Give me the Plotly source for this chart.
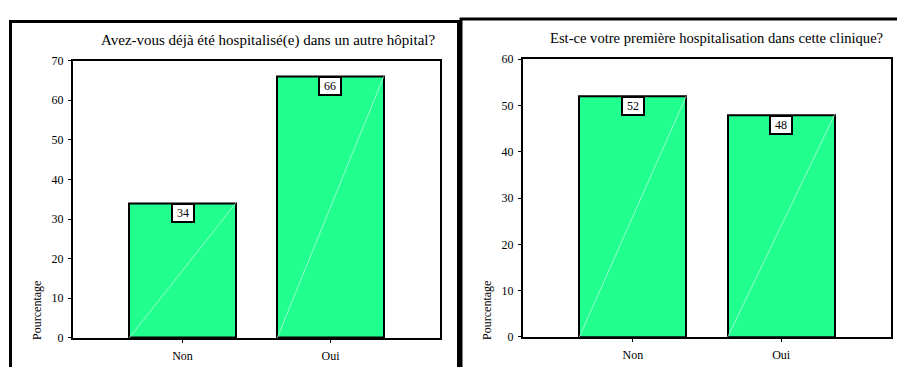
import plotly.graph_objects as go

# Survey results (percent of respondents)
categories = ["Non", "Oui"]
autre_hopital = [34, 66]
premiere_hospit = [52, 48]

titles = [
    "Avez-vous déjà été hospitalisé(e) dans un autre hôpital?",
    "Est-ce votre première hospitalisation dans cette clinique?",
]
y_max = [70, 60]
y_label = "Pourcentage"

W, H = 897, 367
BAR_W = 0.72
BAR_COLOR = "#21FF8F"
FONT = "'Liberation Serif', 'Times New Roman', Times, 'DejaVu Serif', serif"


def px(x):
    return x / W


def py(y):
    return 1 - y / H


fig = go.Figure()

panels = [
    dict(values=autre_hopital, xdom=(73, 440), ydom=(344, 55.7), title_x=268, title_y=35,
         title_size=15, ylab_x=37, ylab_y=316),
    dict(values=premiere_hospit, xdom=(523, 891), ydom=(343, 54.3), title_x=716, title_y=32,
         title_size=14.6, ylab_x=487, ylab_y=316),
]

xpos = list(range(len(categories)))

for k, p in enumerate(panels):
    n = "" if k == 0 else str(k + 1)
    xa, ya = "x" + n, "y" + n
    vals = p["values"]

    fig.add_trace(go.Bar(
        x=xpos, y=vals, width=BAR_W, xaxis=xa, yaxis=ya,
        marker=dict(color=BAR_COLOR, line=dict(color="black", width=2)),
        showlegend=False, hoverinfo="skip",
    ))
    # faint diagonal highlight running corner to corner inside each bar
    for i, v in zip(xpos, vals):
        fig.add_trace(go.Scatter(
            x=[i - BAR_W / 2, i + BAR_W / 2], y=[0, v], mode="lines",
            line=dict(color="rgba(200,255,230,0.7)", width=1),
            xaxis=xa, yaxis=ya, showlegend=False, hoverinfo="skip",
        ))
        fig.add_annotation(
            x=i, y=v, xref=xa, yref=ya, text=str(v), showarrow=False,
            yanchor="top", xanchor="center",
            font=dict(family=FONT, size=12, color="black"),
            bgcolor="white", bordercolor="black", borderwidth=2, borderpad=1,
            width=18, height=14,
        )

    axis_common = dict(
        showline=True, linecolor="black", linewidth=2, mirror=True,
        ticks="outside", ticklen=3, tickwidth=1, tickcolor="black",
        showgrid=False, zeroline=False,
        tickfont=dict(family=FONT, size=12, color="black"),
    )
    fig.update_layout(**{
        ("xaxis" + n): dict(
            domain=[px(p["xdom"][0]), px(p["xdom"][1])],
            range=[-0.74, 1.74], tickvals=xpos, ticktext=categories,
            anchor=ya, ticklabelstandoff=3, **axis_common,
        ),
        ("yaxis" + n): dict(
            domain=[py(p["ydom"][0]), py(p["ydom"][1])],
            range=[0, y_max[k]], dtick=10, anchor=xa, ticklabelstandoff=2,
            **axis_common,
        ),
    })

    fig.add_annotation(
        x=px(p["title_x"]), y=py(p["title_y"]), xref="paper", yref="paper",
        text=titles[k], showarrow=False, xanchor="center", yanchor="middle",
        font=dict(family=FONT, size=p["title_size"], color="black"),
    )
    fig.add_annotation(
        x=px(p["ylab_x"]), y=py(p["ylab_y"]), xref="paper", yref="paper",
        text=y_label, showarrow=False, textangle=-90, xanchor="center", yanchor="middle",
        font=dict(family=FONT, size=12, color="black"),
    )

# panel frames
fig.add_shape(type="rect", xref="paper", yref="paper",
              x0=px(10.5), x1=px(458.5), y0=py(390), y1=py(15),
              line=dict(color="black", width=3), fillcolor="rgba(0,0,0,0)")
fig.add_shape(type="rect", xref="paper", yref="paper",
              x0=px(461), x1=px(920), y0=py(390), y1=py(12.5),
              line=dict(color="black", width=3), fillcolor="rgba(0,0,0,0)")

fig.update_layout(
    width=W, height=H,
    margin=dict(l=0, r=0, t=0, b=0),
    paper_bgcolor="white", plot_bgcolor="white",
    bargap=0,
    font=dict(family=FONT),
)

fig.write_html("out.html")
